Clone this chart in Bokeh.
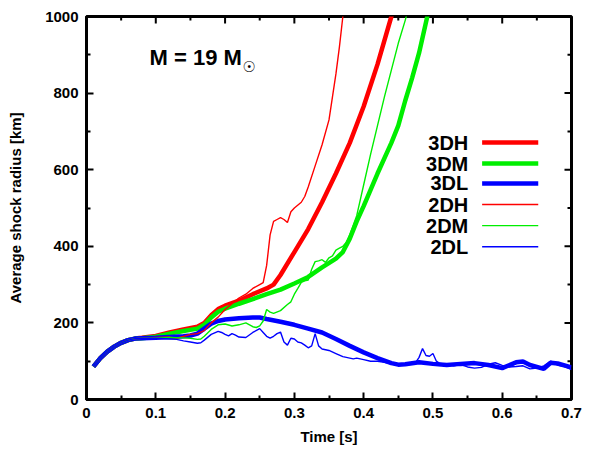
from bokeh.plotting import figure
from bokeh.models import FixedTicker, Range1d
from bokeh.core.properties import value
from bokeh.embed import file_html
from bokeh.resources import INLINE

# ---- data: average shock radius [km] vs time [s] ----
t_3dh = [0.01, 0.02, 0.03, 0.04, 0.05, 0.06, 0.07, 0.08, 0.10, 0.12, 0.14, 0.16, 0.17, 0.18,
         0.19, 0.20, 0.22, 0.24, 0.26, 0.27, 0.28, 0.30, 0.32, 0.34, 0.36, 0.38, 0.40, 0.42,
         0.44, 0.445]
r_3dh = [86, 108, 125, 138, 148, 155, 159, 161, 166, 175, 183, 190, 200, 220,
         236, 245, 258, 275, 290, 300, 325, 385, 445, 515, 590, 670, 765, 875,
         1000, 1030]

t_3dm = [0.01, 0.02, 0.03, 0.04, 0.05, 0.06, 0.07, 0.08, 0.10, 0.12, 0.14, 0.16, 0.17, 0.18,
         0.19, 0.20, 0.22, 0.24, 0.26, 0.28, 0.30, 0.32, 0.34, 0.36, 0.37, 0.38, 0.39, 0.40,
         0.42, 0.44, 0.45, 0.46, 0.47, 0.48, 0.49, 0.495]
r_3dm = [86, 108, 125, 138, 148, 155, 159, 160, 164, 172, 179, 185, 195, 214,
         229, 237, 250, 262, 275, 287, 303, 320, 345, 368, 385, 420, 465, 505,
         590, 670, 715, 780, 840, 905, 985, 1025]

t_3dl = [0.01, 0.02, 0.03, 0.04, 0.05, 0.06, 0.07, 0.08, 0.10, 0.12, 0.14, 0.15, 0.16, 0.17,
         0.18, 0.19, 0.20, 0.22, 0.24, 0.25, 0.26, 0.28, 0.30, 0.32, 0.34, 0.36, 0.38, 0.40,
         0.42, 0.44, 0.45, 0.46, 0.48, 0.50, 0.52, 0.54, 0.56, 0.58, 0.60, 0.62, 0.63, 0.64,
         0.66, 0.67, 0.68, 0.70]
r_3dl = [86, 108, 125, 138, 148, 155, 159, 160, 161, 163, 165, 167, 172, 185,
         198, 205, 209, 212, 214, 214, 210, 203, 195, 185, 175, 158, 140, 123,
         108, 95, 91, 92, 97, 93, 90, 93, 95, 90, 82, 97, 99, 90,
         80, 96, 94, 84]

t_2dh = [0.01, 0.02, 0.03, 0.04, 0.05, 0.06, 0.07, 0.08, 0.10, 0.12, 0.13, 0.14, 0.15, 0.16,
         0.17, 0.18, 0.19, 0.20, 0.21, 0.22, 0.23, 0.24, 0.25, 0.255, 0.26, 0.265, 0.27, 0.275,
         0.28, 0.285, 0.29, 0.295, 0.30, 0.31, 0.315, 0.32, 0.33, 0.34, 0.35, 0.355, 0.36,
         0.365, 0.37, 0.372]
r_2dh = [86, 108, 125, 138, 148, 155, 159, 160, 162, 163, 160, 165, 170, 172,
         180, 200, 215, 235, 250, 265, 275, 290, 300, 305, 350, 430, 465, 470,
         475, 470, 462, 490, 500, 515, 530, 555, 610, 665, 730, 790, 850,
         920, 1000, 1030]

t_2dm = [0.01, 0.02, 0.03, 0.04, 0.05, 0.06, 0.07, 0.08, 0.10, 0.12, 0.14, 0.15, 0.16, 0.165,
         0.17, 0.18, 0.19, 0.20, 0.21, 0.22, 0.23, 0.24, 0.245, 0.25, 0.255, 0.26, 0.265, 0.27,
         0.28, 0.29, 0.295, 0.30, 0.305, 0.31, 0.315, 0.32, 0.325, 0.33, 0.335, 0.34, 0.345,
         0.35, 0.355, 0.36, 0.365, 0.37, 0.375, 0.38, 0.385, 0.39, 0.40, 0.41, 0.42, 0.43,
         0.44, 0.45, 0.46, 0.465]
r_2dm = [86, 108, 125, 138, 148, 155, 159, 160, 161, 162, 161, 160, 157, 158,
         165, 183, 195, 197, 192, 195, 200, 190, 188, 192, 205, 235, 228, 225,
         232, 248, 255, 275, 290, 306, 310, 312, 340, 360, 362, 365, 358,
         370, 375, 390, 395, 400, 410, 430, 455, 480, 560, 640, 715, 790,
         860, 930, 990, 1025]

t_2dl = [0.01, 0.02, 0.03, 0.04, 0.05, 0.06, 0.07, 0.08, 0.10, 0.12, 0.13, 0.14, 0.15, 0.16,
         0.165, 0.17, 0.18, 0.19, 0.195, 0.20, 0.205, 0.21, 0.215, 0.22, 0.23, 0.24, 0.25,
         0.255, 0.26, 0.265, 0.27, 0.275, 0.28, 0.285, 0.29, 0.295, 0.30, 0.305, 0.31, 0.315,
         0.32, 0.325, 0.33, 0.335, 0.34, 0.35, 0.36, 0.37, 0.38, 0.385, 0.39, 0.40, 0.41,
         0.42, 0.43, 0.44, 0.45, 0.46, 0.47, 0.475, 0.48, 0.485, 0.49, 0.495, 0.50, 0.505,
         0.51, 0.52, 0.53, 0.54, 0.55, 0.56, 0.57, 0.58, 0.59, 0.60, 0.61, 0.62, 0.63, 0.64,
         0.65, 0.66, 0.67, 0.68, 0.69, 0.70]
r_2dl = [86, 108, 125, 138, 148, 155, 159, 160, 160, 158, 157, 153, 150, 147,
         148, 155, 170, 178, 175, 170, 166, 172, 168, 163, 162, 175, 185,
         175, 165, 160, 165, 172, 176, 150, 142, 160, 158, 150, 148, 142,
         135, 140, 172, 140, 132, 128, 120, 112, 108, 106, 108, 104, 100,
         100, 97, 93, 90, 92, 95, 96, 110, 133, 115, 113, 120, 100,
         94, 92, 88, 91, 85, 82, 84, 92, 96, 89, 85, 86, 88, 80,
         82, 88, 100, 90, 86, 78]

x_ticks = [0, 0.1, 0.2, 0.3, 0.4, 0.5, 0.6, 0.7]
x_tick_labels = ["0", "0.1", "0.2", "0.3", "0.4", "0.5", "0.6", "0.7"]
x_minor = [0.05, 0.15, 0.25, 0.35, 0.45, 0.55, 0.65]
y_ticks = [0, 200, 400, 600, 800, 1000]
y_tick_labels = ["0", "200", "400", "600", "800", "1000"]
y_minor = [100, 300, 500, 700, 900]

series_names = ["3DH", "3DM", "3DL", "2DH", "2DM", "2DL"]
legend_rows = [671, 616, 564, 509, 454, 399]   # key row heights in km units

X_MIN, X_MAX = 0.0, 0.7
Y_MIN, Y_MAX = 0.0, 1000.0

# page and frame geometry in pixels
W, H = 600, 450
B_LEFT, B_RIGHT, B_TOP, B_BOTTOM = 86, 29, 16, 51
FRAME_W = W - B_LEFT - B_RIGHT
FRAME_H = H - B_TOP - B_BOTTOM
X_PER_PX = (X_MAX - X_MIN) / FRAME_W
Y_PER_PX = (Y_MAX - Y_MIN) / FRAME_H
MAJOR_LEN, MINOR_LEN = 7, 4
TICK_W = 2

RED, GREEN, BLUE = "#ff0000", "#00ee00", "#0000ff"
FONT = "Liberation Sans"

p = figure(width=W, height=H, output_backend="svg", toolbar_location=None,
           x_range=Range1d(X_MIN, X_MAX), y_range=Range1d(Y_MIN, Y_MAX),
           min_border_left=B_LEFT, min_border_right=B_RIGHT,
           min_border_top=B_TOP, min_border_bottom=B_BOTTOM)
p.grid.visible = False
p.outline_line_color = "black"
p.outline_line_width = 3
p.background_fill_color = "white"
p.border_fill_color = "white"

p.xaxis.ticker = FixedTicker(ticks=x_ticks, minor_ticks=x_minor)
p.yaxis.ticker = FixedTicker(ticks=y_ticks, minor_ticks=y_minor)
p.xaxis.major_label_overrides = dict(zip(x_ticks, x_tick_labels))
p.yaxis.major_label_overrides = dict(zip(y_ticks, y_tick_labels))
for ax in (p.xaxis[0], p.yaxis[0]):
    ax.axis_line_width = 3
    ax.major_tick_in = MAJOR_LEN
    ax.major_tick_out = 0
    ax.minor_tick_in = MINOR_LEN
    ax.minor_tick_out = 0
    ax.major_tick_line_width = TICK_W
    ax.minor_tick_line_width = TICK_W
    ax.major_tick_line_color = "black"
    ax.minor_tick_line_color = "black"
    ax.major_label_text_font = FONT
    ax.major_label_text_font_style = "bold"
    ax.major_label_text_font_size = "15px"
    ax.major_label_text_color = "black"
    ax.major_label_standoff = 8
    ax.axis_label_text_font = FONT
    ax.axis_label_text_font_style = "bold"
    ax.axis_label_text_font_size = "15px"
    ax.axis_label_text_color = "black"
p.xaxis.axis_label = "Time [s]"
p.yaxis.axis_label = "Average shock radius [km]"
p.xaxis.axis_label_standoff = 7
p.yaxis.axis_label_standoff = 18

# mirrored inward ticks on the top and right edges
tick_style = dict(line_color="black", line_width=TICK_W)
p.segment(x0=x_ticks, x1=x_ticks, y0=[Y_MAX] * len(x_ticks),
          y1=[Y_MAX - MAJOR_LEN * Y_PER_PX] * len(x_ticks), **tick_style)
p.segment(x0=x_minor, x1=x_minor, y0=[Y_MAX] * len(x_minor),
          y1=[Y_MAX - MINOR_LEN * Y_PER_PX] * len(x_minor), **tick_style)
p.segment(x0=[X_MAX] * len(y_ticks), x1=[X_MAX - MAJOR_LEN * X_PER_PX] * len(y_ticks),
          y0=y_ticks, y1=y_ticks, **tick_style)
p.segment(x0=[X_MAX] * len(y_minor), x1=[X_MAX - MINOR_LEN * X_PER_PX] * len(y_minor),
          y0=y_minor, y1=y_minor, **tick_style)

THICK, THIN = 4.5, 1.4
p.line(t_3dh, r_3dh, line_color=RED, line_width=THICK)
p.line(t_3dm, r_3dm, line_color=GREEN, line_width=THICK)
p.line(t_3dl, r_3dl, line_color=BLUE, line_width=THICK)
p.line(t_2dh, r_2dh, line_color=RED, line_width=THIN)
p.line(t_2dm, r_2dm, line_color=GREEN, line_width=THIN)
p.line(t_2dl, r_2dl, line_color=BLUE, line_width=THIN)

# key: label on the left, line sample on the right
key_colors = [RED, GREEN, BLUE, RED, GREEN, BLUE]
key_widths = [THICK, THICK, THICK, THIN, THIN, THIN]
p.text(x=[0.551] * 6, y=legend_rows, text=series_names, text_align="right",
       text_baseline="middle", text_font=value(FONT), text_font_style="bold",
       text_font_size="20px", text_color="black")
p.segment(x0=[0.571] * 6, x1=[0.652] * 6, y0=legend_rows, y1=legend_rows,
          line_color=key_colors, line_width=key_widths)

# mass annotation
p.text(x=[0.091], y=[893], text=["M = 19 M"], text_align="left", text_baseline="middle",
       text_font=value(FONT), text_font_style="bold", text_font_size="22px",
       text_color="black")
p.text(x=[0.235], y=[868], text=["\u2609"], text_align="center", text_baseline="middle",
       text_font=value("DejaVu Sans"), text_font_size="15px", text_color="black")

open("out.html", "w").write(file_html(p, INLINE))
